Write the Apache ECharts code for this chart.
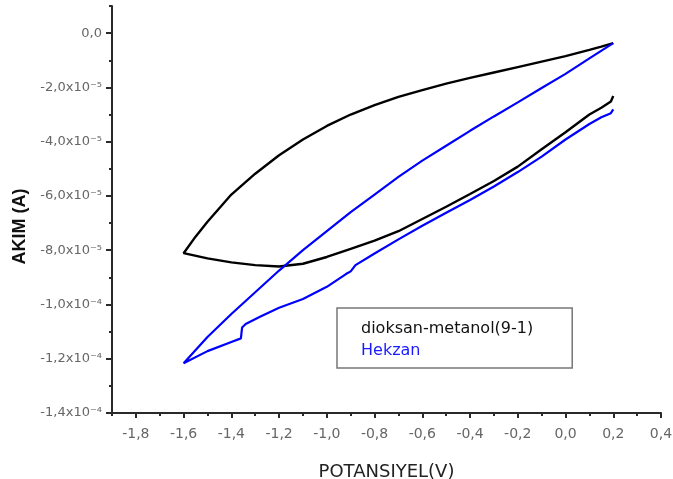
<!DOCTYPE html>
<html>
<head>
<meta charset="utf-8">
<script src="https://cdn.jsdelivr.net/npm/echarts@6/dist/echarts.min.js"></script>
<style>html,body{margin:0;padding:0;background:#fff}#c{width:673px;height:479px}</style>
</head>
<body>
<div id="c"></div>
<script>
// ---- data (potential in V, current in units of 1e-5 A) ----
const seriesNames = ['dioksan-metanol(9-1)', 'Hekzan'];

const dioksanX = [0.2, 0.15, 0.1, 0.0, -0.1, -0.2, -0.3, -0.4, -0.5, -0.6, -0.7, -0.8, -0.9, -1.0, -1.1, -1.2, -1.3, -1.4, -1.5, -1.55, -1.6,
                  -1.5, -1.4, -1.3, -1.2, -1.1, -1.0, -0.9, -0.8, -0.7, -0.6, -0.5, -0.4, -0.3, -0.2, -0.1, 0.0, 0.1, 0.15, 0.19, 0.2];
const dioksanY = [-0.37, -0.5, -0.62, -0.85, -1.05, -1.25, -1.45, -1.65, -1.86, -2.1, -2.35, -2.65, -3.0, -3.42, -3.92, -4.5, -5.18, -5.95, -6.95, -7.5, -8.11,
                  -8.3, -8.45, -8.55, -8.6, -8.5, -8.25, -7.95, -7.65, -7.3, -6.85, -6.4, -5.93, -5.45, -4.92, -4.28, -3.65, -3.0, -2.75, -2.52, -2.32];

const hekzanX = [0.2, 0.1, 0.0, -0.1, -0.2, -0.3, -0.4, -0.5, -0.6, -0.7, -0.8, -0.9, -1.0, -1.1, -1.2, -1.3, -1.4, -1.5, -1.6,
                 -1.5, -1.4, -1.36, -1.355, -1.34, -1.28, -1.2, -1.1, -1.0, -0.92, -0.9, -0.88, -0.8, -0.7, -0.6, -0.5, -0.4, -0.3, -0.2, -0.1, 0.0, 0.1, 0.15, 0.19, 0.2];
const hekzanY = [-0.37, -0.93, -1.5, -2.02, -2.55, -3.07, -3.6, -4.15, -4.7, -5.3, -5.95, -6.6, -7.3, -8.0, -8.75, -9.55, -10.35, -11.2, -12.17,
                 -11.72, -11.38, -11.25, -10.85, -10.72, -10.45, -10.12, -9.8, -9.35, -8.88, -8.78, -8.55, -8.12, -7.6, -7.1, -6.62, -6.15, -5.65, -5.12, -4.55, -3.92, -3.35, -3.1, -2.95, -2.81];

// ---- ticks ----
const xTickValues = [-1.8, -1.6, -1.4, -1.2, -1.0, -0.8, -0.6, -0.4, -0.2, 0.0, 0.2, 0.4];
const xTickLabels = ['-1,8', '-1,6', '-1,4', '-1,2', '-1,0', '-0,8', '-0,6', '-0,4', '-0,2', '0,0', '0,2', '0,4'];
const xMinorTicks = [-1.9, -1.7, -1.5, -1.3, -1.1, -0.9, -0.7, -0.5, -0.3, -0.1, 0.1, 0.3];
const yTickValues = [-14, -12, -10, -8, -6, -4, -2, 0];
const yTickLabels = ['-1,4x10⁻⁴', '-1,2x10⁻⁴', '-1,0x10⁻⁴', '-8,0x10⁻⁵', '-6,0x10⁻⁵', '-4,0x10⁻⁵', '-2,0x10⁻⁵', '0,0'];
const yMinorTicks = [-13, -11, -9, -7, -5, -3, -1, 1];

const zip = (xs, ys) => xs.map((x, i) => [x, ys[i]]);
const lookup = (vals, labels) => v => {
  const i = vals.findIndex(t => Math.abs(t - v) < 1e-6);
  return i >= 0 ? labels[i] : '';
};

const axisColor = '#2a2a2a';
const labelColor = '#666';
const FONT = 'DejaVu Sans';

const chart = echarts.init(document.getElementById('c'));
chart.setOption({
  animation: false,
  backgroundColor: '#fff',
  textStyle: { fontFamily: FONT },
  grid: { left: 112, right: 12, top: 6, bottom: 66, containLabel: false, outerBoundsMode: 'none' },
  xAxis: [{
    type: 'value', min: -1.9, max: 0.4, position: 'bottom',
    axisLine: { show: true, onZero: false, lineStyle: { color: axisColor, width: 2 } },
    axisTick: { show: true, customValues: xTickValues, length: 5, lineStyle: { color: axisColor, width: 2 } },
    axisLabel: { customValues: xTickValues, formatter: lookup(xTickValues, xTickLabels), color: labelColor, fontSize: 14, fontFamily: FONT, margin: 14 },
    splitLine: { show: false },
    name: 'POTANSIYEL(V)', nameLocation: 'middle', nameGap: 50,
    nameTextStyle: { fontSize: 18, color: '#222', fontFamily: FONT }
  }, {
    type: 'value', min: -1.9, max: 0.4, position: 'bottom', offset: 0,
    axisLine: { show: false, onZero: false },
    axisTick: { show: true, customValues: xMinorTicks, length: 3, lineStyle: { color: axisColor, width: 2 } },
    axisLabel: { show: false },
    splitLine: { show: false }
  }],
  yAxis: [{
    type: 'value', min: -14, max: 1, position: 'left',
    axisLine: { show: true, onZero: false, lineStyle: { color: axisColor, width: 2 } },
    axisTick: { show: true, customValues: yTickValues, length: 6, lineStyle: { color: axisColor, width: 2 } },
    axisLabel: { customValues: yTickValues, formatter: lookup(yTickValues, yTickLabels), color: labelColor, fontSize: 13, fontFamily: FONT, margin: 10 },
    splitLine: { show: false },
    name: 'AKIM (A)', nameLocation: 'middle', nameRotate: 90, nameGap: 78,
    nameTextStyle: { fontSize: 18, fontWeight: 'bold', color: '#111', fontFamily: 'Liberation Sans', padding: [0, 34, 0, 0] }
  }, {
    type: 'value', min: -14, max: 1, position: 'left', offset: 0,
    axisLine: { show: false, onZero: false },
    axisTick: { show: true, customValues: yMinorTicks, length: 3, lineStyle: { color: axisColor, width: 2 } },
    axisLabel: { show: false },
    splitLine: { show: false }
  }],
  legend: {
    orient: 'vertical', left: 337, top: 308,
    icon: 'none', itemWidth: 0, itemHeight: 14, itemGap: 6,
    padding: [13, 39, 9, 19],
    borderColor: '#777', borderWidth: 1.5, backgroundColor: '#fff',
    selectedMode: false,
    textStyle: { fontSize: 16, fontFamily: FONT },
    itemStyle: { opacity: 0 }, lineStyle: { opacity: 0 },
    data: [
      { name: seriesNames[0], textStyle: { color: '#111' } },
      { name: seriesNames[1], textStyle: { color: '#1a1aff' } }
    ]
  },
  series: [{
    name: seriesNames[0], type: 'line', xAxisIndex: 0, yAxisIndex: 0,
    data: zip(dioksanX, dioksanY), showSymbol: false, symbol: 'none',
    lineStyle: { color: '#000', width: 2.4 }, itemStyle: { color: '#000' }
  }, {
    name: seriesNames[1], type: 'line', xAxisIndex: 0, yAxisIndex: 0,
    data: zip(hekzanX, hekzanY), showSymbol: false, symbol: 'none',
    lineStyle: { color: '#0000ff', width: 2.2 }, itemStyle: { color: '#0000ff' }
  }]
});
</script>
</body>
</html>
